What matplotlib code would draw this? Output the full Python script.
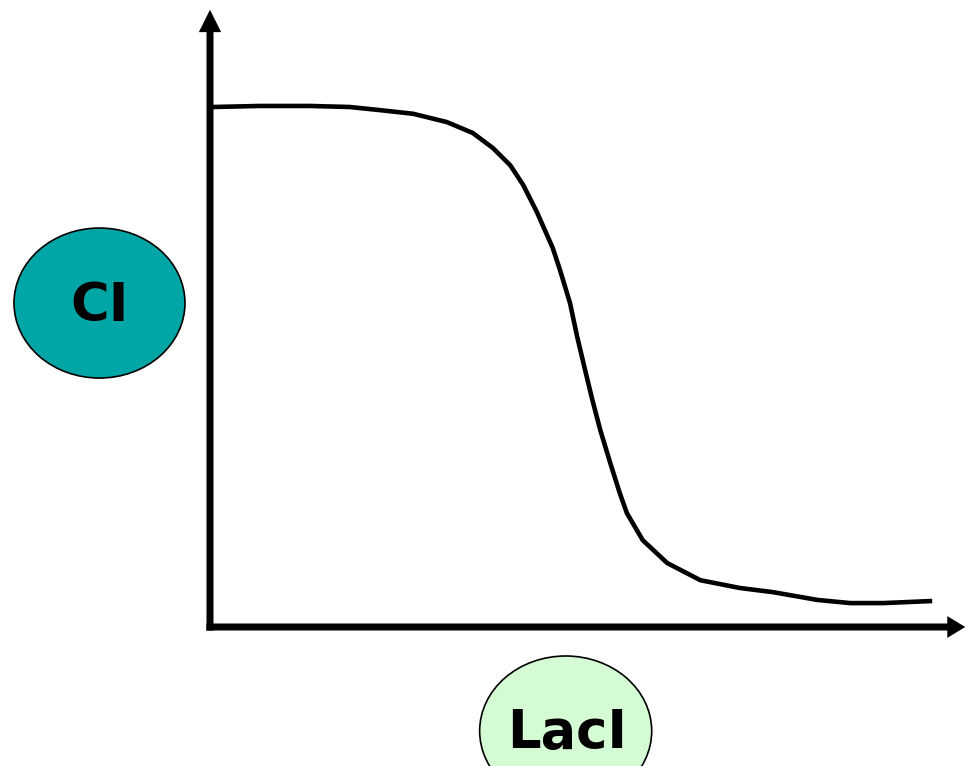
import matplotlib
matplotlib.use("Agg")
import matplotlib.pyplot as plt
from matplotlib.patches import Ellipse

# LacI level (x) vs CI level (y), arbitrary units
laci = [0.4, 6.9, 13.9, 19.4, 23.6, 28.2, 32.9, 36.5, 39.3, 41.7, 43.5,
        45.4, 47.6, 48.6, 50.0, 51.0, 52.1, 53.1, 54.2, 55.6, 56.9, 57.9,
        60.1, 63.5, 68.1, 73.6, 78.2, 81.5, 84.4, 88.9, 93.5, 100.3]
ci = [100.0, 100.2, 100.2, 100.0, 99.4, 98.7, 97.1, 95.0, 92.1, 88.8, 85.0,
      79.8, 72.9, 68.7, 62.3, 55.8, 49.4, 43.7, 37.9, 31.5, 25.8, 21.9,
      16.7, 12.3, 9.0, 7.5, 6.7, 5.9, 5.2, 4.6, 4.6, 5.0]

y_label = "CI"
x_label = "LacI"
y_color = "#00A6A6"
x_color = "#D4FBD4"

fig = plt.figure(figsize=(9.65, 7.66), dpi=100)
# axes box maps data 0..100 onto the drawing area
ax = fig.add_axes([210 / 965, 139 / 766, 720 / 965, 520 / 766])
ax.set_xlim(0, 100)
ax.set_ylim(0, 100)
ax.axis("off")

# the response curve
ax.plot(laci, ci, color="black", lw=3.3, solid_capstyle="butt",
        solid_joinstyle="round", clip_on=False)

# axes drawn as thick arrows
ax.arrow(0, -0.7, 0, 119.4, width=0.97, head_width=3.1, head_length=4.3,
         length_includes_head=True, color="black", lw=0, clip_on=False)
ax.arrow(-0.5, 0, 105.4, 0, width=1.35, head_width=4.2, head_length=2.5,
         length_includes_head=True, color="black", lw=0, clip_on=False)

# axis labels in ellipses
ax.add_patch(Ellipse((-15.35, 62.3), 23.75, 28.85, facecolor=y_color,
                     edgecolor="black", lw=1.2, clip_on=False))
ax.text(-15.4, 61.7, y_label, ha="center", va="center", fontsize=38,
        fontweight="bold", family="DejaVu Sans")

ax.add_patch(Ellipse((49.4, -20.0), 23.9, 28.85, facecolor=x_color,
                     edgecolor="black", lw=1.2, clip_on=False))
ax.text(49.6, -20.4, x_label, ha="center", va="center", fontsize=38,
        fontweight="bold", family="DejaVu Sans")

fig.savefig("out.png", dpi=100)
